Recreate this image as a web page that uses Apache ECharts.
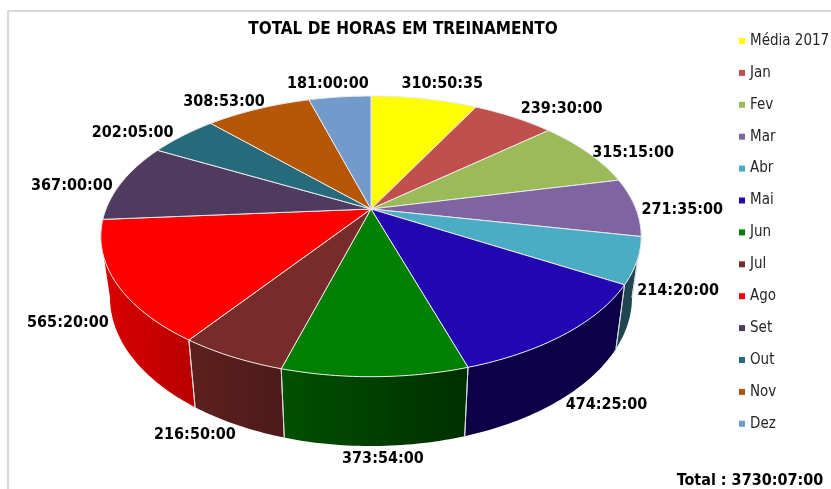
<!DOCTYPE html>
<html><head><meta charset="utf-8">
<style>html,body{margin:0;padding:0;background:#fff}#c{width:831px;height:489px}</style>
<script src="https://cdn.jsdelivr.net/npm/echarts@6/dist/echarts.min.js"></script>
</head><body><div id="c"></div>
<script>
const categories = ['Média 2017','Jan','Fev','Mar','Abr','Mai','Jun','Jul','Ago','Set','Out','Nov','Dez'];
const durations = ['310:50:35','239:30:00','315:15:00','271:35:00','214:20:00','474:25:00','373:54:00','216:50:00','565:20:00','367:00:00','202:05:00','308:53:00','181:00:00'];
const colors = ['#FFFF00','#C0504D','#9BBB59','#8064A2','#4BACC6','#2106B2','#008000','#772C2A','#FF0000','#4F3A60','#276A7C','#B65708','#729ACA'];
const wallLeft = ['#999900','#732f2e','#5d7035','#4d3c61','#1e4550','#0c0046','#005000','#5f201e','#dc0000','#2f233a','#173f4a','#6d3405','#445c79'];
const wallRight = ['#999900','#732f2e','#5d7035','#4d3c61','#1e4550','#0c0046','#002f00','#4c1a19','#b80000','#2f233a','#173f4a','#6d3405','#445c79'];
const labelNudge = [[18,-15],[48,-8],[45,0],[47,3],[41,30],[41,71],[8,82],[-37,78],[-48,40],[-50,4],[-50,-3],[-34,-7],[-12,-13]];
const titleText = 'TOTAL DE HORAS EM TREINAMENTO';
const totalText = 'Total : 3730:07:00';

const FONT = '"DejaVu Sans Condensed","DejaVu Sans",sans-serif';
const hours = durations.map(s => { const p = s.split(':').map(Number); return p[0] + p[1]/60 + p[2]/3600; });
const sum = hours.reduce((a,b)=>a+b,0);

// perspective projection of the disc
const CX=371, CY=209, RX=265, RY=135, K=0.195;
const BCY=268.4, BRX=256, BRY=143;
const rad = d => d*Math.PI/180;
const top3d = a => { const u=Math.sin(rad(a)), v=Math.cos(rad(a)), d=1+K*v; return [CX+RX*u/d, CY-RY*v/d]; };
const bot3d = a => { const u=Math.sin(rad(a)), v=Math.cos(rad(a)), d=1+K*v; return [CX+BRX*u/d, BCY-BRY*v/d]; };
const WALL_A = Math.acos(-K)*180/Math.PI, WALL_B = 360-WALL_A;
const arc = (fn,a,b) => { const out=[]; const n=Math.max(1,Math.ceil(Math.abs(b-a))); for(let i=0;i<=n;i++) out.push(fn(a+(b-a)*i/n)); return out; };

function renderSlice(params, api){
  const start=api.value(0)/sum*360, end=(api.value(0)+api.value(1))/sum*360, i=api.value(2);
  const children=[];
  const a=Math.max(start,WALL_A), b=Math.min(end,WALL_B);
  if(b>a){
    const pts=arc(top3d,a,b).concat(arc(bot3d,b,a));
    children.push({type:'polygon',shape:{points:pts},z2:1,style:{
      fill:new echarts.graphic.LinearGradient(0,0,1,0,[{offset:0,color:wallLeft[i]},{offset:1,color:wallRight[i]}]),lineWidth:0}});
    [a,b].forEach(t=>{ if(t>WALL_A+0.01&&t<WALL_B-0.01){
      const p=top3d(t),q=bot3d(t);
      children.push({type:'line',shape:{x1:p[0],y1:p[1],x2:q[0],y2:q[1]},z2:2,style:{stroke:'#d8d8d8',lineWidth:1}});
    }});
  }
  const topPts=[[CX,CY]].concat(arc(top3d,start,end));
  children.push({type:'polygon',shape:{points:topPts},z2:3,style:{fill:colors[i],stroke:'#e9e9e9',lineWidth:1,lineJoin:'round'}});
  const m=top3d((start+end)/2);
  children.push({type:'text',z2:10,x:m[0]+labelNudge[i][0],y:m[1]+labelNudge[i][1],style:{
    text:durations[i],fill:'#000',font:'bold 16px '+FONT,align:'center',verticalAlign:'middle'}});
  return {type:'group',children};
}

let cum=0;
const series=categories.map((name,i)=>{
  const s={type:'custom',name,coordinateSystem:'none',renderItem:renderSlice,silent:true,
    itemStyle:{color:colors[i]},data:[[cum,hours[i],i]],dimensions:['start','value','index'],
    encode:{value:[0,1,2]},animation:false};
  cum+=hours[i]; return s;
});

const chart=echarts.init(document.getElementById('c'),null,{renderer:'canvas'});
chart.setOption({
  animation:false,backgroundColor:'#fff',
  graphic:[
    {type:'polyline',silent:true,shape:{points:[[8,489],[8,11],[831,11]]},style:{stroke:'#d9d9d9',lineWidth:2,fill:null}},
    {type:'text',silent:true,x:403,y:30,style:{text:titleText,font:'bold 17px '+FONT,fill:'#000',align:'center',verticalAlign:'middle'}},
    {type:'text',silent:true,x:750,y:481,style:{text:totalText,font:'bold 16px '+FONT,fill:'#000',align:'center',verticalAlign:'middle'}}
  ],
  legend:{orient:'vertical',left:739,top:32,icon:'rect',itemWidth:6,itemHeight:6,itemGap:13.9,
    data:categories,selectedMode:false,
    textStyle:{fontFamily:FONT,fontSize:15,color:'#262626',height:18,lineHeight:18,padding:[0,0,0,0]},
    padding:0,formatter:n=>n},
  series
});
</script></body></html>
